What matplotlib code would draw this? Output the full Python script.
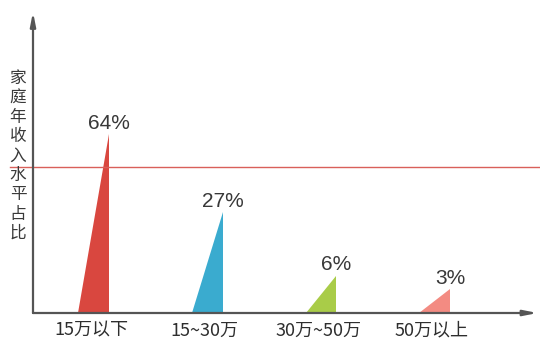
import numpy as np
import matplotlib
matplotlib.use("Agg")
import matplotlib.pyplot as plt
from matplotlib.patches import Polygon

plt.rcParams['font.family'] = ['Liberation Sans', 'Noto Sans CJK SC', 'DejaVu Sans']

categories = ["15万以下", "15~30万", "30万~50万", "50万以上"]
shares = [64, 27, 6, 3]
share_labels = ["64%", "27%", "6%", "3%"]
colors = ["#d9473f", "#3aabcf", "#a9cc48", "#f38b82"]
ref_level = 47
ylabel_text = "家庭年收入水平占比"

POW = 0.66
def fwd(v):
    v = np.asarray(v, dtype=float)
    return np.sign(v) * np.abs(v) ** POW
def inv(v):
    v = np.asarray(v, dtype=float)
    return np.sign(v) * np.abs(v) ** (1 / POW)

fig = plt.figure(figsize=(5.40, 3.41), dpi=100)
ax = fig.add_axes([33 / 540, 28 / 341, 507 / 540, 298 / 341])
ax.set_yscale('function', functions=(fwd, inv))
ax.set_xlim(-0.534, 3.926)
ax.set_ylim(0, 139)
for s in ax.spines.values():
    s.set_visible(False)
ax.set_xticks([])
ax.set_yticks([])
ax.patch.set_alpha(0)

cjk = ['Noto Sans CJK SC', 'DejaVu Sans']
half = 0.135
for i, (v, c, lab) in enumerate(zip(shares, colors, share_labels)):
    tri = Polygon([(i - half, 0), (i + half, 0), (i + half, v)],
                  closed=True, facecolor=c, edgecolor='none')
    ax.add_patch(tri)
    ax.annotate(lab, (i + half, v), xytext=(0, 1), textcoords='offset points',
                ha='center', va='bottom', fontsize=15, color='#383838')
    ax.annotate(categories[i], (i, 0), xytext=(-2, -6), textcoords='offset points',
                ha='center', va='top', fontsize=13, color='#2e2e2e',
                family=cjk)

# reference line, extending slightly past the vertical axis
ax.axhline(ref_level, xmin=-0.045, xmax=1.0, color='#d9605a', lw=1.0,
           clip_on=False, zorder=1)

# arrowed axes
arrow_kw = dict(arrowstyle='-|>,head_length=0.8,head_width=0.16',
                color='#555555', lw=1.6, shrinkA=0, shrinkB=0)
ax.annotate('', xy=(0, 1.01), xytext=(0, 0), xycoords='axes fraction',
            arrowprops=arrow_kw, annotation_clip=False)
ax.annotate('', xy=(0.995, 0), xytext=(0, 0), xycoords='axes fraction',
            arrowprops=arrow_kw, annotation_clip=False)

fig.text(18 / 540, 1 - 156 / 341, "\n".join(ylabel_text), ha='center', va='center',
         fontsize=12, color='#3a3a3a', linespacing=1.18, family=cjk)

fig.savefig("out.png", dpi=100, facecolor='white')
